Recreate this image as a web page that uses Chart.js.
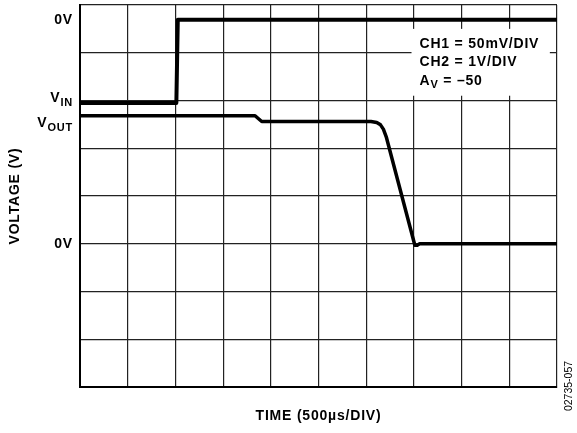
<!DOCTYPE html>
<html>
<head>
<meta charset="utf-8">
<script src="https://cdn.jsdelivr.net/npm/chart.js@4"></script>
<style>
    html, body { margin: 0; padding: 0; background: #fff; }
    #wrap { width: 577px; height: 433px; }
</style>
</head>
<body>
<div id="wrap"><canvas id="scope"></canvas></div>
<script>
// time in divisions (500us/div), voltage in divisions from bottom of screen
var vinTime = [0, 2.02, 2.05, 10];
var vinLevel = [5.95, 5.95, 7.69, 7.69];

var voutTime = [0, 3.67, 3.81, 6.10, 6.22, 6.30, 6.36, 6.42, 7.02, 7.07, 7.12, 10];
var voutLevel = [5.68, 5.68, 5.56, 5.56, 5.54, 5.49, 5.40, 5.24, 2.97, 2.97, 3.0, 3.0];

// y-axis labels and where they sit (in divisions), {..} = subscript
var yLabelText = ['0V', 'V{IN}', 'V{OUT}', '0V'];
var yLabelAt = [7.69, 6.04, 5.52, 3.0];

var noteLines = ['CH1 = 50mV/DIV', 'CH2 = 1V/DIV', 'A{V} = \u201350'];

var xTitle = 'TIME (500\u00b5s/DIV)';
var yTitle = 'VOLTAGE (V)';
var figCode = '02735-057';

var FONT = '"Liberation Sans", Arial, sans-serif';

function toPoints(xs, ys) {
    var pts = [];
    for (var i = 0; i < xs.length; i++) {
        pts.push({ x: xs[i], y: ys[i] });
    }
    return pts;
}

// split "A{V} = -50" into pieces [{t:'A',sub:false},{t:'V',sub:true},...]
function pieces(str) {
    var out = [];
    var re = /\{([^}]*)\}/g;
    var last = 0, m;
    while ((m = re.exec(str)) !== null) {
        if (m.index > last) out.push({ t: str.slice(last, m.index), sub: false });
        out.push({ t: m[1], sub: true });
        last = re.lastIndex;
    }
    if (last < str.length) out.push({ t: str.slice(last), sub: false });
    return out;
}

function paintText(ctx, str, x, y, size, align) {
    var ps = pieces(str);
    var subSize = Math.round(size * 0.8);
    var total = 0;
    ctx.letterSpacing = '0.8px';
    for (var i = 0; i < ps.length; i++) {
        ctx.font = 'bold ' + (ps[i].sub ? subSize : size) + 'px ' + FONT;
        ps[i].w = ctx.measureText(ps[i].t).width;
        total += ps[i].w;
    }
    var cx = align === 'right' ? x - total : x;
    ctx.textAlign = 'left';
    ctx.textBaseline = 'middle';
    for (var j = 0; j < ps.length; j++) {
        ctx.font = 'bold ' + (ps[j].sub ? subSize : size) + 'px ' + FONT;
        ctx.fillText(ps[j].t, cx, ps[j].sub ? y + size * 0.3 : y);
        cx += ps[j].w;
    }
}

var notePlugin = {
    id: 'notes',
    beforeDatasetsDraw: function (chart) {
        var ctx = chart.ctx;
        var xs = chart.scales.x;
        var ys = chart.scales.y;
        var left = xs.getPixelForValue(6.95);
        var right = xs.getPixelForValue(9.85);
        var top = ys.getPixelForValue(7.5);
        var bottom = ys.getPixelForValue(6.1);
        ctx.save();
        ctx.fillStyle = '#fff';
        ctx.fillRect(left, top, right - left, bottom - top);
        ctx.fillStyle = '#000';
        for (var i = 0; i < noteLines.length; i++) {
            paintText(ctx, noteLines[i], left + 8, top + 15 + i * 18.5, 14, 'left');
        }
        ctx.restore();
    },
    afterDraw: function (chart) {
        var ctx = chart.ctx;
        var ys = chart.scales.y;
        var area = chart.chartArea;
        ctx.save();
        ctx.fillStyle = '#000';
        for (var i = 0; i < yLabelText.length; i++) {
            paintText(ctx, yLabelText[i], area.left - 7, ys.getPixelForValue(yLabelAt[i]), 14, 'right');
        }

        ctx.letterSpacing = '0.8px';
        ctx.font = 'bold 14px ' + FONT;
        ctx.textAlign = 'center';
        ctx.textBaseline = 'middle';
        ctx.fillText(xTitle, (area.left + area.right) / 2, 416);

        ctx.save();
        ctx.translate(15, (area.top + area.bottom) / 2);
        ctx.rotate(-Math.PI / 2);
        ctx.fillText(yTitle, 0, 0);
        ctx.restore();

        ctx.save();
        ctx.letterSpacing = '0px';
        ctx.font = '10.5px ' + FONT;
        ctx.translate(569, 386);
        ctx.rotate(-Math.PI / 2);
        ctx.fillText(figCode, 0, 0);
        ctx.restore();
        ctx.restore();
    }
};

var gridOpts = {
    color: '#222',
    lineWidth: 1.2,
    drawTicks: false
};

new Chart(document.getElementById('scope').getContext('2d'), {
    type: 'line',
    data: {
        datasets: [{
            label: 'VIN',
            data: toPoints(vinTime, vinLevel),
            borderColor: '#000',
            borderWidth: 4,
            pointRadius: 0,
            tension: 0,
            borderJoinStyle: 'round'
        }, {
            label: 'VOUT',
            data: toPoints(voutTime, voutLevel),
            borderColor: '#000',
            borderWidth: 3.5,
            pointRadius: 0,
            tension: 0,
            borderJoinStyle: 'round'
        }]
    },
    options: {
        responsive: true,
        maintainAspectRatio: false,
        animation: false,
        layout: { padding: { left: 80, right: 20, top: 5, bottom: 46 } },
        plugins: {
            legend: { display: false },
            tooltip: { enabled: false }
        },
        scales: {
            x: {
                type: 'linear',
                min: 0,
                max: 10,
                ticks: { display: false, stepSize: 1 },
                grid: gridOpts,
                border: { display: true, color: '#000', width: 2 }
            },
            y: {
                type: 'linear',
                min: 0,
                max: 8,
                ticks: { display: false, stepSize: 1 },
                grid: gridOpts,
                border: { display: true, color: '#000', width: 2 }
            }
        }
    },
    plugins: [notePlugin]
});
</script>
</body>
</html>
